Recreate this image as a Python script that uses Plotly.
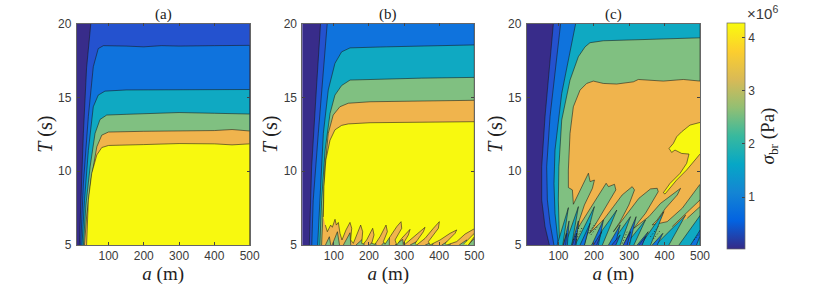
import plotly.graph_objects as go

# colours of the contour bands
NAVY, BLUE, MIDBLUE, TEAL, GREEN, ORANGE, YELLOW = "#382c8a", "#2452cf", "#0f73dd", "#0fa9c2", "#80c081", "#f0b44d", "#f8f90f"
PARULA = ["#352a87", "#0363e1", "#1485d4", "#06a7c6", "#38b99e", "#92bf73", "#d9ba56", "#fcce2e", "#f9fb0e"]

# panel (a): contour boundaries
A1_a = [17.5, 21.3, 28.9, 38, 50, 500, 500]
A1_T = [5, 8.05, 12.56, 17, 20, 20, 5]
A2_a = [21.3, 29, 43, 57, 71, 85.5, 150, 200, 250, 300, 400, 500, 500]
A2_T = [5, 9.2, 13.7, 17.07, 18.3, 18.5, 18.47, 18.42, 18.5, 18.47, 18.5, 18.52, 5]
A3_a = [25, 32, 43, 57, 71, 90, 150, 300, 500, 500]
A3_T = [5, 8, 11.4, 14.36, 15.15, 15.42, 15.5, 15.53, 15.53, 5]
A4_a = [29, 36, 48, 62, 76, 95, 150, 300, 400, 500, 500]
A4_T = [5, 7.7, 10.3, 12.56, 13.5, 13.8, 13.85, 13.97, 13.92, 13.87, 5]
A5_a = [32, 38, 50.6, 67, 81, 100, 200, 300, 400, 450, 500, 500]
A5_T = [5, 6.9, 9.4, 11.65, 12.44, 12.65, 12.7, 12.72, 12.75, 12.82, 12.72, 5]
A6_a = [38, 43, 52.5, 67, 81, 100, 200, 300, 400, 450, 500, 500]
A6_T = [5, 8.05, 9.85, 11.1, 11.6, 11.74, 11.8, 11.87, 11.85, 11.78, 11.85, 5]

# panel (b)
B1_a = [30, 36.6, 51, 62, 500, 500]
B1_T = [5, 10.3, 15.9, 20, 20, 5]
B2_a = [37, 41, 55.6, 70, 81, 500, 500]
B2_T = [5, 8, 12.56, 17.07, 20, 20, 5]
B3_a = [53.7, 60, 70, 84, 103, 122, 146, 250, 350, 500, 500]
B3_T = [5, 8, 12.56, 15.5, 17.3, 18.08, 18.35, 18.42, 18.47, 18.55, 5]
B4_a = [60, 65, 75, 89, 103, 122, 146, 250, 350, 500, 500]
B4_T = [5, 8, 11.43, 13.9, 15.15, 15.8, 16.17, 16.25, 16.3, 16.35, 5]
B5_a = [65, 68, 75, 84, 98, 117, 141, 203, 350, 500, 500]
B5_T = [5, 6.9, 10.3, 12.56, 13.8, 14.36, 14.6, 14.7, 14.75, 14.8, 5]
B6_a = [75.6, 81.3, 90.8, 95.6, 103.2, 107, 112.7, 117.4, 123.1, 134.5, 145.9, 150.7, 147.8, 155.4, 176.3, 182, 179.2,
        184, 193.4, 210.5, 214.3, 207.7, 217.2, 231.4, 248.5, 252.3, 241, 245.7, 260, 279, 291.3, 293.2, 274.2, 279,
        293.2, 316.9, 312.2, 298, 302.7, 321.7, 345.4, 359.7, 355, 331.2, 335.9, 359.7, 383.4, 400.5, 397.7, 369.2,
        373.9, 402.4, 430.9, 449.9, 445.2, 416.7, 421.4, 449.9, 473.7, 500,
        500, 350, 203, 141, 122, 103, 89, 77, 71.6, 70]
B6_T = [6.35, 5.9, 6.35, 6.2, 6.74, 6.35, 6.53, 5.79, 5.34, 6.02, 6.53, 6.13, 5.34, 5.11, 6.35, 5.9, 5.11,
        5.07, 5.34, 6.13, 5.68, 5.11, 5.05, 5.56, 6.35, 5.9, 5.23, 5.05, 5.56, 6.24, 6.58, 6.13, 5.34, 5,
        5.45, 6.06, 5.68, 5.11, 5.05, 5.45, 5.9, 6.2, 5.9, 5.11, 5, 5.45, 6.13, 6.58, 6.13, 5.23,
        5, 5.34, 5.79, 6.02, 5.79, 5.11, 5, 5.23, 5.74, 6.1,
        13.35, 13.32, 13.28, 13.2, 13.1, 12.8, 12.1, 10.75, 8.95, 6.9]
B6S_a = [469, 500, 500, 483]
B6S_T = [5.05, 5.79, 5.56, 5]
# green lobes of panel (b): left foot, tip position, tip height, right foot
BG_left = [76, 95, 127, 163, 201, 236, 274, 317, 360, 407, 457, 483]
BG_tip = [87, 110, 146, 184, 217, 258, 296, 336, 384, 431, 478, 500]
BG_peak = [5.56, 5.9, 5.83, 5.45, 5.34, 5.56, 5.38, 5.23, 5.23, 5.34, 5.34, 5.45]
BG_right = [91, 116, 148, 186, 220, 258, 298, 336, 381, 431, 478, 500]

# panel (c)
C1_a = [74, 61.8, 52.4, 52.4, 61.8, 76, 85.4, 500, 500]
C1_T = [5, 6.24, 8.05, 10.3, 13.7, 17.75, 20, 20, 5]
C2_a = [87, 76, 68.4, 66.5, 76, 94.8, 106, 500, 500]
C2_T = [5, 6.47, 8.05, 10.3, 13.7, 17.5, 20, 20, 5]
C3_a = [99.5, 95, 90, 87.2, 90, 109, 132.5, 148.5, 500, 500]
C3_T = [5, 6, 7.14, 9.17, 11.43, 15.26, 18.2, 20, 20, 5]
C4_a = [103, 102, 99.5, 101, 109, 132.5, 156, 175, 189, 226.7, 283, 330, 396, 500, 500]
C4_T = [5, 6.9, 8.05, 10.3, 13.46, 16.17, 17.75, 18.42, 18.7, 18.83, 18.87, 18.9, 18.94, 19.03, 5]
C5_a = [500, 452.9, 396.3, 358.7, 325.7, 311.5, 264.4, 226.7, 198.5, 179.6, 160.8, 141.9, 132.5, 127.8, 127.9, 139.2, 142,
        184.5, 189.2, 201.5, 195.8, 173.2, 159, 154.3,
        184.5, 212.8, 234.6, 241.2, 258.2, 262, 245.9, 227, 203.4, 187.4,
        227, 255.3, 279.9, 308.2, 314.8, 298.8, 284.6, 274.2, 255.3,
        298.8, 327.1, 360.1, 379, 381.9, 364.9, 346, 327.1, 313,
        355.4, 388.5, 445.1, 435.7, 402.6, 379, 364.9,
        407.3, 449.8, 500]
C5_T = [16.1, 16.21, 16.1, 16.17, 16.21, 16.05, 15.9, 15.94, 16.1, 15.94, 15.49, 14.36, 12.56, 10.08, 8.89, 8.73, 7.76,
        9.86, 9.29, 9.4, 8.84, 7.71, 6.7, 6.13,
        7.26, 8.39, 9.18, 8.95, 9.11, 8.73, 8.05, 7.26, 6.36, 5.79,
        6.7, 7.6, 8.39, 8.95, 8.73, 7.71, 7.03, 6.58, 5.9,
        7.26, 8.16, 8.8, 8.84, 8.61, 7.94, 7.15, 6.58, 6.13,
        6.92, 7.82, 8.84, 8.39, 7.49, 6.7, 6.36,
        6.58, 7.49, 9.11]
C5S_a = [421.5, 459.3, 500, 500, 464]
C5S_T = [6.25, 7.15, 8.05, 7.6, 6.81]
C6_a = [500, 471.7, 448.2, 434, 424.6, 412.4, 419.9, 429.3, 448.2, 468.9, 462.3, 443.5, 415.2, 396.3, 401, 434, 462.3, 485.9, 500]
C6_T = [13.3, 13.12, 12.67, 12.33, 11.88, 11.54, 11.27, 11.43, 11.2, 11.16, 10.53, 9.85, 9.17, 8.54, 8.45, 9.4, 10.08, 10.75, 11.16]
# lobes of panel (c): left foot, tip position, tip height, right foot
CT_left = [96, 118.4, 146.8, 194, 245.9, 289.3, 331.8, 374.3]
CT_tip = [127.9, 156.2, 201.5, 264.8, 303.5, 346, 397.9, 459.3]
CT_peak = [7.53, 7.6, 7.6, 7.37, 6.92, 6.7, 7.26, 7.03]
CT_right = [112, 137.3, 173.2, 224, 274.2, 313, 360.1, 412]
CTR_a = [440.4, 500, 500]
CTR_T = [5, 6.99, 5]
CM_left = [113.7, 137.3, 160.9, 194, 241.2, 284.6, 322.4, 364.9]
CM_tip = [129.8, 156.2, 189.2, 227, 274.2, 319.5, 353.5, 395]
CM_peak = [6.63, 6.63, 6.47, 6.7, 6.36, 6.92, 5.9, 5.79]
CM_right = [125, 149.6, 173.2, 212.8, 260, 300.7, 334.7, 379]
CMR_a = [473.4, 500, 500, 490]
CMR_T = [5, 6, 5.6, 5]
CB_left = [113.7, 139.2, 198.7, 250.6, 282.7, 327]
CB_tip = [123.2, 151.5, 222.3, 274.2, 303.5, 346]
CB_peak = [5.8, 5.8, 5.9, 5.68, 5.9, 5.57]
CB_right = [120.3, 146.8, 208, 262, 294, 336.5]
# dotted noise between the lobes of panel (c): from (a, T) to (a, T)
CD_a0 = [142, 150, 184, 192, 360, 368, 280, 483]
CD_T0 = [5.35, 5.35, 5.8, 5.7, 5.56, 5.4, 5.1, 5.34]
CD_a1 = [160, 167, 205, 212, 382, 388, 294, 500]
CD_T1 = [6.3, 6.2, 6.47, 6.3, 6.25, 6, 5.9, 5.8]

PANEL_TITLES = ["(a)", "(b)", "(c)"]
X_TICKS = [100, 200, 300, 400, 500]
Y_TICKS = [5, 10, 15, 20]
BAR_TICKS = [1e6, 2e6, 3e6, 4e6]
BAR_LABELS = ["1", "2", "3", "4"]
BAR_MIN, BAR_MAX = 0.02e6, 4.28e6

W, H = 830, 285
PANELS = [(76.7, 249.7), (302.3, 474.3), (526.7, 700)]
TOP, BOTTOM = 23.5, 245
TXT = "#3a3a3a"
SERIF = "Liberation Serif"

fig = go.Figure()


def band(i, xs, ys, color):
    s = "" if i == 0 else str(i + 1)
    fig.add_trace(go.Scatter(x=xs, y=ys, xaxis="x" + s, yaxis="y" + s, mode="lines", fill="toself",
                             fillcolor=color, line=dict(color="rgba(25,25,25,0.8)", width=0.7),
                             hoverinfo="skip", showlegend=False))


def lobes(i, left, tip, peak, right, color):
    for l, t, p, r in zip(left, tip, peak, right):
        band(i, [l, t, r], [5, p, 5], color)


for xs, ys, c in [(A1_a, A1_T, BLUE), (A2_a, A2_T, MIDBLUE), (A3_a, A3_T, TEAL), (A4_a, A4_T, GREEN),
                  (A5_a, A5_T, ORANGE), (A6_a, A6_T, YELLOW)]:
    band(0, xs, ys, c)

for xs, ys, c in [(B1_a, B1_T, BLUE), (B2_a, B2_T, MIDBLUE), (B3_a, B3_T, TEAL), (B4_a, B4_T, GREEN),
                  (B5_a, B5_T, ORANGE)]:
    band(1, xs, ys, c)
lobes(1, BG_left, BG_tip, BG_peak, BG_right, GREEN)
band(1, B6_a, B6_T, YELLOW)
band(1, B6S_a, B6S_T, YELLOW)

for xs, ys, c in [(C1_a, C1_T, BLUE), (C2_a, C2_T, MIDBLUE), (C3_a, C3_T, TEAL), (C4_a, C4_T, GREEN),
                  (C5_a, C5_T, ORANGE), (C5S_a, C5S_T, ORANGE)]:
    band(2, xs, ys, c)
lobes(2, CT_left, CT_tip, CT_peak, CT_right, TEAL)
band(2, CTR_a, CTR_T, TEAL)
lobes(2, CM_left, CM_tip, CM_peak, CM_right, MIDBLUE)
band(2, CMR_a, CMR_T, MIDBLUE)
lobes(2, CB_left, CB_tip, CB_peak, CB_right, BLUE)
band(2, C6_a, C6_T, YELLOW)
for a0, t0, a1, t1 in zip(CD_a0, CD_T0, CD_a1, CD_T1):
    fig.add_trace(go.Scatter(x=[a0, a1], y=[t0, t1], xaxis="x3", yaxis="y3", mode="lines", hoverinfo="skip",
                             showlegend=False, line=dict(color="rgba(25,25,25,0.85)", width=1, dash="1px 2px")))

# colour bar
fig.add_trace(go.Scatter(
    x=[None], y=[None], mode="markers", showlegend=False, hoverinfo="skip",
    marker=dict(color=[BAR_MIN], cmin=BAR_MIN, cmax=BAR_MAX, showscale=True,
                colorscale=[[k / (len(PARULA) - 1), c] for k, c in enumerate(PARULA)],
                colorbar=dict(x=726.5 / W, xanchor="left", xpad=0, y=(H - 249) / H, yanchor="bottom", ypad=0,
                              lenmode="pixels", len=226, thicknessmode="pixels", thickness=18,
                              outlinecolor="#666", outlinewidth=0.7,
                              tickvals=BAR_TICKS, ticktext=BAR_LABELS, ticks="inside", ticklen=3,
                              tickcolor="#444", tickwidth=0.6,
                              tickfont=dict(family="Liberation Sans", size=12, color=TXT),
                              title=dict(text="<i>σ</i><sub>br</sub> (Pa)", side="right",
                                         font=dict(family=SERIF, size=19, color="#222"))))))

layout = dict(width=W, height=H, margin=dict(l=0, r=0, t=0, b=0, autoexpand=False), plot_bgcolor=NAVY,
              paper_bgcolor="white", showlegend=False)
for i, (x0, x1) in enumerate(PANELS):
    s = "" if i == 0 else str(i + 1)
    layout["xaxis" + s] = dict(domain=[x0 / W, x1 / W], range=[10, 500], tickvals=X_TICKS, ticks="inside", ticklen=3,
                               tickwidth=0.6, tickcolor="#444", showline=True, linecolor="#666", linewidth=0.7,
                               mirror="ticks", showgrid=False, zeroline=False, anchor="y" + s,
                               tickfont=dict(family="Liberation Sans", size=12, color=TXT),
                               title=dict(text="<i>a</i> (m)", standoff=1, font=dict(family=SERIF, size=19, color="#222")))
    layout["yaxis" + s] = dict(domain=[(H - BOTTOM) / H, (H - TOP) / H], range=[5, 20], tickvals=Y_TICKS, ticks="inside",
                               ticklen=3, tickwidth=0.6, tickcolor="#444", showline=True, linecolor="#666", linewidth=0.7,
                               mirror="ticks", showgrid=False, zeroline=False, anchor="x" + s, ticklabelstandoff=2,
                               tickfont=dict(family="Liberation Sans", size=12, color=TXT),
                               title=dict(text="<i>T</i> (s)", standoff=0, font=dict(family=SERIF, size=20, color="#222")))
fig.update_layout(**layout)

for (x0, x1), t in zip(PANELS, PANEL_TITLES):
    fig.add_annotation(x=(x0 + x1) / 2 / W, y=(H - 14) / H, xref="paper", yref="paper", text=t, showarrow=False,
                       xanchor="center", yanchor="middle", font=dict(family=SERIF, size=15, color="#222"))
fig.add_annotation(x=745 / W, y=(H - 12) / H, xref="paper", yref="paper", xanchor="left", yanchor="middle",
                   text="×10<sup>6</sup>", showarrow=False, font=dict(family="Liberation Sans", size=15, color=TXT))

# the page's default body margin would push the figure off its 830x285 window
fig.write_html("out.html", post_script="document.body.style.margin='0';", config={"displayModeBar": False})
